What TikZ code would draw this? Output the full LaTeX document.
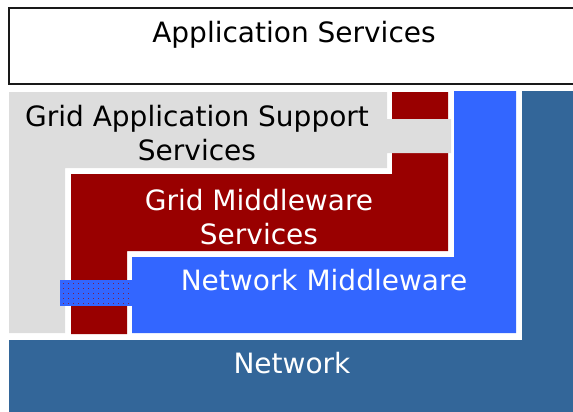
\documentclass[tikz,border=0pt]{standalone}
\usepackage{fontspec}
\setmainfont{DejaVu Sans}
\definecolor{gasgrey}{HTML}{DDDDDD}
\definecolor{gmred}{HTML}{990000}
\definecolor{nmblue}{HTML}{3366FF}
\definecolor{netblue}{HTML}{336699}
\tikzset{
  lbl/.style={font=\fontsize{28}{34}\selectfont, align=center, inner sep=0pt},
  wlbl/.style={lbl, text=white},
}
\begin{document}
\begin{tikzpicture}[x=1pt,y=-1pt]
\useasboundingbox (0,0) rectangle (573,412);
% Application Services box
\draw[line width=2pt, draw=black!90] (9,8) rectangle (580,84);
\node[lbl] (app) at (294,35) {Application Services};
% Network (bottom L)
\fill[netblue] (9,340) -- (522,340) -- (522,91) -- (573,91) -- (573,412) -- (9,412) -- cycle;
% Network Middleware
\fill[nmblue] (132,257) -- (454,257) -- (454,91) -- (516,91) -- (516,333) -- (132,333) -- cycle;
% Grid Middleware Services
\fill[gmred] (71,334) -- (71,174) -- (392,174) -- (392,92) -- (448,92) -- (448,251) -- (127,251) -- (127,334) -- cycle;
% Grid Application Support Services
\fill[gasgrey] (9,92) -- (387,92) -- (387,119) -- (451,119) -- (451,153) -- (387,153) -- (387,168) -- (65,168) -- (65,333) -- (9,333) -- cycle;
% dotted patch
\fill[nmblue] (60,280) rectangle (132,306);
\foreach \yy in {283,288,...,303} {
  \foreach \xx in {63,68,...,129} {
    \fill[gmred!70!nmblue] (\xx,\yy) rectangle ++(1,1);
  }
}
% labels
\node[lbl] (gas) at (197,133) {Grid Application Support\\Services};
\node[wlbl] (gms) at (259,217) {Grid Middleware\\Services};
\node[wlbl] (nm) at (324,280) {Network Middleware};
\node[wlbl] (net) at (292,363) {Network};
\end{tikzpicture}
\end{document}
